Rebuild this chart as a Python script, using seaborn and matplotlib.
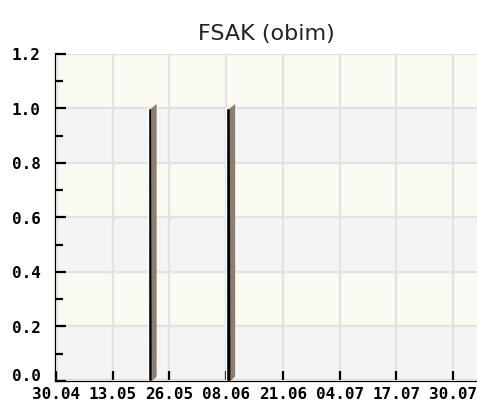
import matplotlib
matplotlib.use('Agg')

import matplotlib.pyplot as plt
import matplotlib.dates as mdates
import matplotlib.ticker as mticker
import matplotlib.image as mpimg
from matplotlib.patches import Polygon
from matplotlib.transforms import IdentityTransform, ScaledTranslation
import pandas as pd
import seaborn as sns

# --- 資料 ---
bar_dates = ['2020-05-21', '2020-06-08']
bar_values = [1.0, 1.0]
tick_dates = ['2020-04-30', '2020-05-13', '2020-05-26', '2020-06-08',
              '2020-06-21', '2020-07-04', '2020-07-17', '2020-07-30']
x_start, x_end = '2020-04-30', '2020-08-04 12:00'
y_ticks = [0.0, 0.2, 0.4, 0.6, 0.8, 1.0, 1.2]
title = 'FSAK (obim)'

sns.set_style('white', {'xtick.bottom': True, 'ytick.left': True})
plt.rcParams['font.family'] = ['DejaVu Sans']

fig = plt.figure(figsize=(4.7701, 4.0701), dpi=100)
ax = fig.add_axes([56 / 477, 1 - 381 / 407, 1 - 56 / 477, (381 - 54) / 407])

df = pd.DataFrame({'x': mdates.date2num(pd.to_datetime(bar_dates)), 'y': bar_values})
sns.barplot(data=df, x='x', y='y', native_scale=True, color='black',
            saturation=1, ax=ax, zorder=3, errorbar=None)

# 柱寬約 1 天，左緣對齊日期 (JpGraph 風格)
bar_w = 1.03
for p, xv in zip(ax.patches, df['x']):
    p.set_width(bar_w)
    p.set_x(xv)

# 背景色帶與格線
band_colors = ['#f4f4f4', '#fafaf3']
for i in range(len(y_ticks) - 1):
    ax.axhspan(y_ticks[i], y_ticks[i + 1], color=band_colors[i % 2], zorder=0, lw=0)

ax.set_xlim(mdates.date2num(pd.Timestamp(x_start)), mdates.date2num(pd.Timestamp(x_end)))
ax.set_ylim(y_ticks[0], y_ticks[-1])
ax.set_xticks(mdates.date2num(pd.to_datetime(tick_dates)))
ax.xaxis.set_major_formatter(mdates.DateFormatter('%d.%m'))
ax.set_yticks(y_ticks)
ax.yaxis.set_major_formatter(mticker.FormatStrFormatter('%.1f'))
ax.yaxis.set_minor_locator(mticker.MultipleLocator(0.1))
ax.set_axisbelow(False)
ax.grid(True, which='major', color='#e2e2e2', linewidth=1.6)
ax.set_xlabel('')
ax.set_ylabel('')

for s in ['top', 'right']:
    ax.spines[s].set_visible(False)
for s in ['left', 'bottom']:
    ax.spines[s].set_color('black')
    ax.spines[s].set_linewidth(1.6)

tick_font = dict(family='DejaVu Sans Mono', weight='bold', size=11.5)
ax.tick_params(axis='y', which='major', left=True, direction='in', length=7.5,
               width=1.6, pad=11, color='black')
ax.tick_params(axis='y', which='minor', left=True, direction='in', length=5,
               width=1.6, color='black')
for lab in ax.get_xticklabels() + ax.get_yticklabels():
    lab.set_fontproperties(tick_font)
    lab.set_color('black')
# JpGraph 把 0.0 標籤稍微上移
zero_lab = ax.get_yticklabels()[0]
zero_lab.set_transform(zero_lab.get_transform() + ScaledTranslation(0, 4 / 72, fig.dpi_scale_trans))

ax.set_title(title, fontsize=16, color='#222222', pad=10)

# 3D 側影
d = 4.5
for p in list(ax.patches):
    if p.get_width() != bar_w:
        continue
    x1 = p.get_x() + p.get_width()
    (px1, py0), (_, py1) = ax.transData.transform([(x1, 0), (x1, p.get_height())])
    pts = [(px1, py0), (px1 + d, py0 + d), (px1 + d, py1 + d), (px1 - 1, py1)]
    ax.add_patch(Polygon(pts, closed=True, transform=IdentityTransform(),
                         facecolor='#8c7d6e', edgecolor='none', zorder=3, clip_on=False))

# x 軸刻度最後設定
ax.tick_params(axis='x', which='major', bottom=True, direction='in', length=7.5,
               width=1.6, pad=4, color='black')
fig.savefig('out.png', dpi=100)

# 檢查 x 刻度是否畫出，沒有的話直接設定 tick1line 再存一次
img = mpimg.imread('out.png')
tx = int(round(ax.transData.transform((ax.get_xticks()[1], 0))[0]))
if img[img.shape[0] - 32, tx, :3].mean() > 0.5:
    for t in ax.xaxis.get_major_ticks():
        t.tick1line.set_visible(True)
        t.tick1line.set_marker(2)
        t.tick1line.set_markersize(7.5)
        t.tick1line.set_markeredgewidth(1.6)
        t.tick1line.set_color('black')
    fig.savefig('out.png', dpi=100)
